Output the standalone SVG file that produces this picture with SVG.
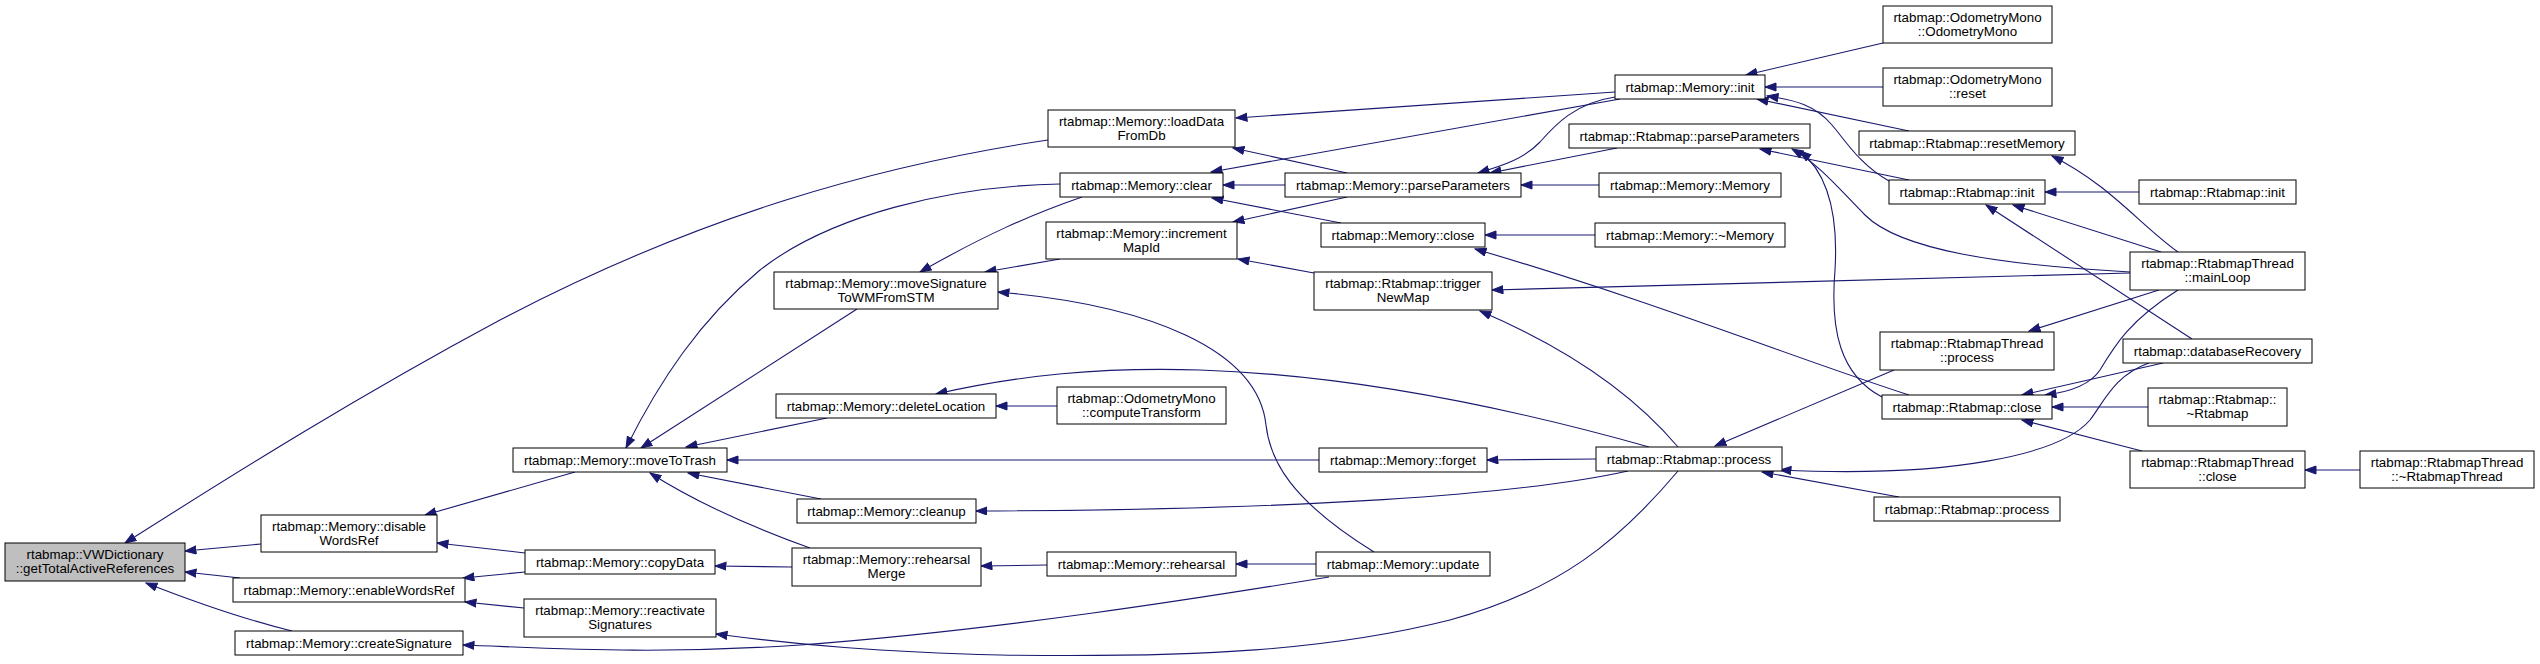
<svg xmlns="http://www.w3.org/2000/svg" width="2540" height="664" viewBox="0 0 2540 664">
<style>
.node rect{fill:#ffffff;stroke:#000000;stroke-width:1}
.node rect.hl{fill:#bfbfbf}
.node text{font-family:"Liberation Sans",Arial,Helvetica,sans-serif;font-size:13.33px;text-anchor:middle;fill:#000000}
.edges path{fill:none;stroke:#191970;stroke-width:1.1;marker-end:url(#arr)}
</style>
<defs>
<marker id="arr" markerUnits="userSpaceOnUse" markerWidth="13" markerHeight="10" refX="11.5" refY="4.5" orient="auto">
<path d="M0.5,0.5 L11.5,4.5 L0.5,8.5 z" fill="#191970" stroke="#191970" stroke-width="1"/>
</marker>
</defs>
<rect x="0" y="0" width="2540" height="664" fill="#ffffff"/>
<g id="edges" class="edges">
<path d="M261,544 L185,551"/>
<path d="M240,578 L185,572"/>
<path d="M292,631 C255,622 215,610 146,583"/>
<path d="M1048,140 C880,165 700,215 500,320 C360,395 240,470 125,543"/>
<path d="M575,472 L425,515"/>
<path d="M525,553 L437,543"/>
<path d="M525,572 L463,578"/>
<path d="M524,608 L465,602"/>
<path d="M1329,577 C1200,598 1000,630 800,645 C650,655 550,648 463,645"/>
<path d="M1060,184 C950,186 830,215 760,270 C700,320 660,380 626,448"/>
<path d="M857,309 L641,448"/>
<path d="M827,418 L686,447"/>
<path d="M1319,460 L727,460"/>
<path d="M821,499 L688,473"/>
<path d="M810,548 C760,530 700,505 650,473"/>
<path d="M792,567 L715,566"/>
<path d="M1047,565 L981,566"/>
<path d="M1316,564 L1236,564"/>
<path d="M1615,92 L1236,118"/>
<path d="M1347,173 L1233,148"/>
<path d="M1620,99 L1211,172"/>
<path d="M1285,185 L1223,185"/>
<path d="M1341,223 L1212,198"/>
<path d="M1082,197 C1030,215 985,235 920,272"/>
<path d="M1060,259 L985,272"/>
<path d="M1374,552 C1290,500 1270,460 1266,425 C1258,350 1150,305 998,292"/>
<path d="M1347,197 L1233,222"/>
<path d="M1314,273 L1238,259"/>
<path d="M1057,406 L996,406"/>
<path d="M1649,447 C1500,405 1350,375 1200,370 C1100,367 1020,375 936,394"/>
<path d="M1628,471 C1520,495 1300,510 976,511"/>
<path d="M1596,459 L1487,460"/>
<path d="M1615,97 C1575,103 1555,125 1540,142 C1525,158 1505,165 1478,173"/>
<path d="M1617,148 L1490,173"/>
<path d="M1599,185 L1521,185"/>
<path d="M1595,235 L1485,235"/>
<path d="M1909,395 C1800,360 1650,300 1475,249"/>
<path d="M2130,273 L1492,290"/>
<path d="M1678,447 C1630,390 1560,345 1480,311"/>
<path d="M1883,43 L1746,75"/>
<path d="M1883,87 L1765,87"/>
<path d="M1909,131 L1757,99"/>
<path d="M1889,181 C1860,165 1845,140 1832,125 C1815,105 1795,100 1767,96"/>
<path d="M1909,180 L1760,149"/>
<path d="M2130,272 C2000,265 1900,250 1865,215 C1840,190 1820,165 1792,149"/>
<path d="M1882,397 C1840,375 1830,330 1835,270 C1838,220 1830,175 1800,151"/>
<path d="M2178,252 C2140,225 2110,185 2052,156"/>
<path d="M2139,192 L2045,192"/>
<path d="M2161,252 L2013,205"/>
<path d="M2192,339 L1986,205"/>
<path d="M2159,290 L2029,331"/>
<path d="M2178,290 C2130,320 2115,345 2100,370 C2090,385 2070,392 2045,395"/>
<path d="M2163,363 L2022,395"/>
<path d="M2148,407 L2052,407"/>
<path d="M2142,451 L2022,420"/>
<path d="M2360,470 L2305,470"/>
<path d="M1894,370 L1715,446"/>
<path d="M2149,363 C2115,375 2105,400 2090,420 C2060,455 1950,478 1780,470"/>
<path d="M1899,497 L1762,472"/>
<path d="M1678,471 C1620,540 1560,590 1450,620 C1330,650 1200,658 1000,655 C880,652 800,645 716,634"/>
</g>
<g id="n_vwdict" class="node"><rect class="hl" x="5" y="543" width="180" height="38"/><text x="95" y="559">rtabmap::VWDictionary</text><text x="95" y="573">::getTotalActiveReferences</text></g>
<g id="n_disable" class="node"><rect x="261" y="515" width="176" height="37"/><text x="349" y="531">rtabmap::Memory::disable</text><text x="349" y="545">WordsRef</text></g>
<g id="n_enable" class="node"><rect x="233" y="578" width="232" height="24"/><text x="349" y="594.5">rtabmap::Memory::enableWordsRef</text></g>
<g id="n_createsig" class="node"><rect x="235" y="631" width="228" height="24"/><text x="349" y="647.5">rtabmap::Memory::createSignature</text></g>
<g id="n_movetotrash" class="node"><rect x="513" y="448" width="214" height="24"/><text x="620" y="464.5">rtabmap::Memory::moveToTrash</text></g>
<g id="n_copydata" class="node"><rect x="525" y="550" width="190" height="24"/><text x="620" y="566.5">rtabmap::Memory::copyData</text></g>
<g id="n_reactivate" class="node"><rect x="524" y="599" width="192" height="38"/><text x="620" y="615">rtabmap::Memory::reactivate</text><text x="620" y="629">Signatures</text></g>
<g id="n_movesig" class="node"><rect x="774" y="272" width="224" height="37"/><text x="886" y="288">rtabmap::Memory::moveSignature</text><text x="886" y="302">ToWMFromSTM</text></g>
<g id="n_deleteloc" class="node"><rect x="776" y="394" width="220" height="24"/><text x="886" y="410.5">rtabmap::Memory::deleteLocation</text></g>
<g id="n_cleanup" class="node"><rect x="797" y="499" width="179" height="24"/><text x="886.5" y="515.5">rtabmap::Memory::cleanup</text></g>
<g id="n_rehearsalmerge" class="node"><rect x="792" y="548" width="189" height="38"/><text x="886.5" y="564">rtabmap::Memory::rehearsal</text><text x="886.5" y="578">Merge</text></g>
<g id="n_loaddata" class="node"><rect x="1048" y="110" width="187" height="37"/><text x="1141.5" y="126">rtabmap::Memory::loadData</text><text x="1141.5" y="140">FromDb</text></g>
<g id="n_clear" class="node"><rect x="1060" y="173" width="163" height="24"/><text x="1141.5" y="189.5">rtabmap::Memory::clear</text></g>
<g id="n_increment" class="node"><rect x="1046" y="222" width="191" height="37"/><text x="1141.5" y="238">rtabmap::Memory::increment</text><text x="1141.5" y="252">MapId</text></g>
<g id="n_computetransform" class="node"><rect x="1057" y="387" width="169" height="37"/><text x="1141.5" y="403">rtabmap::OdometryMono</text><text x="1141.5" y="417">::computeTransform</text></g>
<g id="n_rehearsal" class="node"><rect x="1047" y="552" width="189" height="24"/><text x="1141.5" y="568.5">rtabmap::Memory::rehearsal</text></g>
<g id="n_parseparams" class="node"><rect x="1285" y="173" width="236" height="24"/><text x="1403" y="189.5">rtabmap::Memory::parseParameters</text></g>
<g id="n_mclose" class="node"><rect x="1321" y="223" width="164" height="24"/><text x="1403" y="239.5">rtabmap::Memory::close</text></g>
<g id="n_triggernewmap" class="node"><rect x="1314" y="272" width="178" height="38"/><text x="1403" y="288">rtabmap::Rtabmap::trigger</text><text x="1403" y="302">NewMap</text></g>
<g id="n_forget" class="node"><rect x="1319" y="448" width="168" height="24"/><text x="1403" y="464.5">rtabmap::Memory::forget</text></g>
<g id="n_update" class="node"><rect x="1316" y="552" width="174" height="24"/><text x="1403" y="568.5">rtabmap::Memory::update</text></g>
<g id="n_minit" class="node"><rect x="1615" y="75" width="150" height="24"/><text x="1690" y="91.5">rtabmap::Memory::init</text></g>
<g id="n_rparse" class="node"><rect x="1569" y="124" width="241" height="24"/><text x="1689.5" y="140.5">rtabmap::Rtabmap::parseParameters</text></g>
<g id="n_mctor" class="node"><rect x="1599" y="173" width="182" height="24"/><text x="1690" y="189.5">rtabmap::Memory::Memory</text></g>
<g id="n_mdtor" class="node"><rect x="1595" y="223" width="190" height="24"/><text x="1690" y="239.5">rtabmap::Memory::~Memory</text></g>
<g id="n_rprocess" class="node"><rect x="1596" y="447" width="186" height="24"/><text x="1689" y="463.5">rtabmap::Rtabmap::process</text></g>
<g id="n_odoctor" class="node"><rect x="1883" y="6" width="169" height="37"/><text x="1967.5" y="22">rtabmap::OdometryMono</text><text x="1967.5" y="36">::OdometryMono</text></g>
<g id="n_odoreset" class="node"><rect x="1883" y="68" width="169" height="38"/><text x="1967.5" y="84">rtabmap::OdometryMono</text><text x="1967.5" y="98">::reset</text></g>
<g id="n_resetmemory" class="node"><rect x="1859" y="131" width="216" height="24"/><text x="1967" y="147.5">rtabmap::Rtabmap::resetMemory</text></g>
<g id="n_rinit" class="node"><rect x="1889" y="180" width="156" height="24"/><text x="1967" y="196.5">rtabmap::Rtabmap::init</text></g>
<g id="n_threadprocess" class="node"><rect x="1880" y="332" width="174" height="38"/><text x="1967" y="348">rtabmap::RtabmapThread</text><text x="1967" y="362">::process</text></g>
<g id="n_rclose" class="node"><rect x="1882" y="395" width="170" height="24"/><text x="1967" y="411.5">rtabmap::Rtabmap::close</text></g>
<g id="n_rprocess2" class="node"><rect x="1874" y="497" width="186" height="24"/><text x="1967" y="513.5">rtabmap::Rtabmap::process</text></g>
<g id="n_rinit2" class="node"><rect x="2139" y="180" width="157" height="24"/><text x="2217.5" y="196.5">rtabmap::Rtabmap::init</text></g>
<g id="n_mainloop" class="node"><rect x="2130" y="252" width="175" height="38"/><text x="2217.5" y="268">rtabmap::RtabmapThread</text><text x="2217.5" y="282">::mainLoop</text></g>
<g id="n_dbrecovery" class="node"><rect x="2123" y="339" width="189" height="24"/><text x="2217.5" y="355.5">rtabmap::databaseRecovery</text></g>
<g id="n_rdtor" class="node"><rect x="2148" y="388" width="139" height="38"/><text x="2217.5" y="404">rtabmap::Rtabmap::</text><text x="2217.5" y="418">~Rtabmap</text></g>
<g id="n_threadclose" class="node"><rect x="2130" y="451" width="175" height="37"/><text x="2217.5" y="467">rtabmap::RtabmapThread</text><text x="2217.5" y="481">::close</text></g>
<g id="n_threaddtor" class="node"><rect x="2360" y="451" width="174" height="37"/><text x="2447" y="467">rtabmap::RtabmapThread</text><text x="2447" y="481">::~RtabmapThread</text></g>
</svg>
